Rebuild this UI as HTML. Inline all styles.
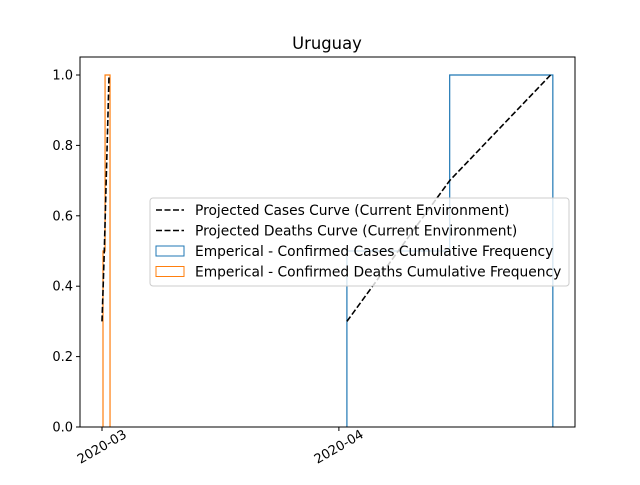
<!DOCTYPE html>
<html><head><meta charset="utf-8"><style>
body{margin:0;background:#fff;font-family:"Liberation Sans","DejaVu Sans",sans-serif}
svg text{font-family:"DejaVu Sans","Liberation Sans",sans-serif}
</style></head><body>
<svg id="chart" width="640" height="480" xmlns="http://www.w3.org/2000/svg">
<rect width="640" height="480" fill="#fff"/>
<text x="327" y="49" text-anchor="middle" font-size="16.4">Uruguay</text>
<g id="plot"></g>
</svg>
<script>
// data: x in days since 2020-03-01
const xTickLabels = ["2020-03","2020-04"];
const xTickDays = [0, 31];
const yTicks = [0,0.2,0.4,0.6,0.8,1.0];
const casesStepEdges = [32.05, 45.5, 59.0];
const casesStepValues = [0.5, 1.0];
const deathsStepEdges = [0.13, 0.4, 1.05];
const deathsStepValues = [0.5, 1.0];
const casesCurveX = [32.05, 45.5, 58.7];
const casesCurveY = [0.30, 0.70, 1.0];
const deathsCurveX = [0.0, 0.3, 0.92];
const deathsCurveY = [0.30, 0.50, 1.0];

const L=80,R=575,T=57,B=427;
const xMin=-2.88,xMax=61.9;
const sx=d=>L+(d-xMin)/(xMax-xMin)*(R-L);
const yS=v=>427-v*352;
const g=document.getElementById('plot');
const NS="http://www.w3.org/2000/svg";
function mk(tag,attrs){const e=document.createElementNS(NS,tag);for(const k in attrs)e.setAttribute(k,attrs[k]);g.appendChild(e);return e;}
function stepPath(edges,vals){let d=`M${sx(edges[0])},${yS(0)}`;for(let i=0;i<vals.length;i++){d+=` L${sx(edges[i])},${yS(vals[i])} L${sx(edges[i+1])},${yS(vals[i])}`;}d+=` L${sx(edges[edges.length-1])},${yS(0)}`;return d;}
function linePath(xs,ys){return xs.map((x,i)=>(i?'L':'M')+sx(x)+','+yS(ys[i])).join(' ');}
let e;
e=mk('path',{d:stepPath(casesStepEdges,casesStepValues),fill:'none',stroke:'#1f77b4','stroke-width':1.2});


e=mk('path',{d:stepPath(deathsStepEdges,deathsStepValues),fill:'none',stroke:'#ff7f0e','stroke-width':1.2});


e=mk('path',{d:linePath(casesCurveX,casesCurveY),fill:'none',stroke:'#000','stroke-width':1.6,'stroke-dasharray':'6,2.5'});


e=mk('path',{d:linePath(deathsCurveX,deathsCurveY),fill:'none',stroke:'#000','stroke-width':1.6,'stroke-dasharray':'6,2.5'});


e=mk('rect',{x:L,y:T,width:R-L,height:B-T,fill:'none',stroke:'#000','stroke-width':1});


yTicks.forEach(v=>{
 e=mk('line',{x1:L-4,x2:L,y1:yS(v),y2:yS(v),stroke:'#000'});
 
 
 e=mk('text',{x:L-7,y:yS(v)+4.5,'text-anchor':'end','font-size':13});
 e.textContent=v.toFixed(1);
 
 
});
xTickDays.forEach((d,i)=>{
 const x=sx(d);
 e=mk('line',{x1:x,x2:x,y1:B,y2:B+4,stroke:'#000'});
 
 
 e=mk('text',{x:x,y:B+24,'text-anchor':'middle','font-size':13,transform:`rotate(-30 ${x} ${B+20})`});
 e.textContent=xTickLabels[i];
 
 
});
// legend
e=mk('rect',{x:150,y:198,width:419,height:88,rx:3,fill:'#fff','fill-opacity':0.8,stroke:'#ccc'});


const labels=["Projected Cases Curve (Current Environment)","Projected Deaths Curve (Current Environment)","Emperical - Confirmed Cases Cumulative Frequency","Emperical - Confirmed Deaths Cumulative Frequency"];
labels.forEach((t,i)=>{
 const y=210+i*20.5;
 if(i<2){e=mk('line',{x1:156,x2:184,y1:y,y2:y,stroke:'#000','stroke-width':1.6,'stroke-dasharray':'6,2.5'});}
 else{e=mk('rect',{x:156,y:y-5,width:28,height:10,fill:'none',stroke:i==2?'#1f77b4':'#ff7f0e'});}
 
 
 e=mk('text',{x:195,y:y+5,'font-size':13.8});
 e.textContent=t;
 
 
});
</script>
</body></html>
